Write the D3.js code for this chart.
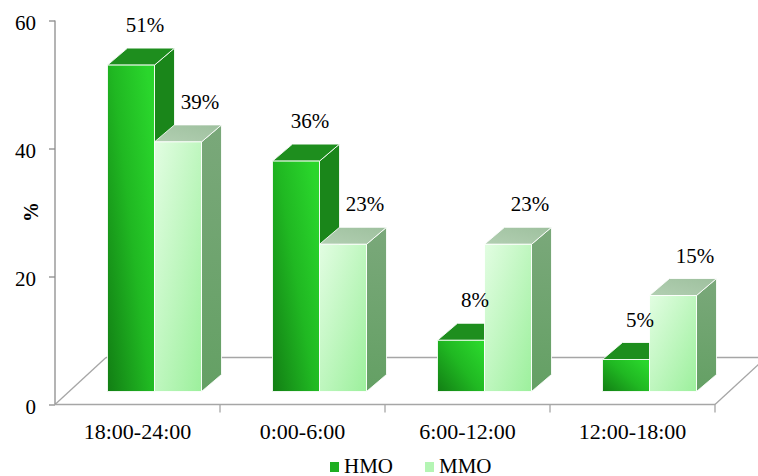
<!DOCTYPE html>
<html><head><meta charset="utf-8">
<script src="https://cdn.jsdelivr.net/npm/d3@7"></script>
<style>html,body{margin:0;padding:0;background:#fff;}svg{display:block;}
svg text{font-family:'Liberation Serif','Times New Roman','DejaVu Serif',serif !important;}</style>
</head><body>
<svg id="chart" width="758" height="476"></svg>
<script>
const categories = ["18:00-24:00", "0:00-6:00", "6:00-12:00", "12:00-18:00"];
const seriesNames = ["HMO", "MMO"];
const hmoValues = [51, 36, 8, 5];
const mmoValues = [39, 23, 23, 15];
const yTicks = [0, 20, 40, 60];

const W = 758, H = 476;
const FONT = "'Liberation Serif','Times New Roman',serif";
const svg = d3.select("#chart");
const defs = svg.append("defs");

// gradients
const gH = defs.append("linearGradient").attr("id","gHfront").attr("x1",0).attr("y1",1).attr("x2",1).attr("y2",0.2);
gH.append("stop").attr("offset",0).attr("stop-color","#127e14");
gH.append("stop").attr("offset",0.55).attr("stop-color","#20b822");
gH.append("stop").attr("offset",1).attr("stop-color","#2ad62c");
const gM = defs.append("linearGradient").attr("id","gMfront").attr("x1",0).attr("y1",0).attr("x2",1).attr("y2",1);
gM.append("stop").attr("offset",0).attr("stop-color","#e2fde2");
gM.append("stop").attr("offset",1).attr("stop-color","#9cf09c");
const gMs = defs.append("linearGradient").attr("id","gMside").attr("x1",0).attr("y1",0).attr("x2",0).attr("y2",1);
gMs.append("stop").attr("offset",0).attr("stop-color","#7aa87a");
gMs.append("stop").attr("offset",1).attr("stop-color","#64a064");
const gMt = defs.append("linearGradient").attr("id","gMtop").attr("x1",0).attr("y1",1).attr("x2",1).attr("y2",0);
gMt.append("stop").attr("offset",0).attr("stop-color","#b2cfb2");
gMt.append("stop").attr("offset",1).attr("stop-color","#9ec09e");

const styles = {
  HMO: {front:"url(#gHfront)", top:"#1e8e1e", side:"#1a861a", legend:"#1fae22"},
  MMO: {front:"url(#gMfront)", top:"url(#gMtop)", side:"url(#gMside)", legend:"#b4f5b4"}
};

// geometry
const plotLeft = 55, plotRight = 715;
const y = d3.scaleLinear().domain([0, 60]).range([404.5, 20.5]);
const x = d3.scaleBand().domain(categories).range([plotLeft, plotRight]);
const floorDx = 51, floorDy = -47;
const barShiftX = 17, barShiftY = -13;   // bar front face inside floor depth
const barDx = 20, barDy = -17;
const groupW = 94;
const xs = d3.scaleBand().domain(seriesNames).range([0, groupW]);

// floor
const floor = svg.append("g").attr("stroke","#a6a6a6").attr("stroke-width",1.3).attr("fill","none");
const y0 = y(0);
floor.append("line").attr("x1",plotLeft+floorDx).attr("y1",y0+floorDy).attr("x2",plotRight+floorDx).attr("y2",y0+floorDy);
floor.append("line").attr("x1",plotLeft).attr("y1",y0).attr("x2",plotLeft+floorDx).attr("y2",y0+floorDy);
floor.append("line").attr("x1",plotRight).attr("y1",y0).attr("x2",plotRight+floorDx).attr("y2",y0+floorDy);

// y axis
const yAxis = d3.axisLeft(y).tickValues(yTicks).tickSize(6).tickPadding(13);
const ya = svg.append("g").attr("transform",`translate(${plotLeft},0)`).call(yAxis).attr("font-family",FONT);
ya.selectAll(".tick line").attr("stroke","#8c8c8c").attr("stroke-width",1.3);
ya.selectAll(".tick text").attr("font-family",FONT).attr("font-size",21).attr("fill","#000").attr("dy","0.42em");
ya.select(".domain").attr("stroke","#8c8c8c").attr("stroke-width",1.3).attr("d",`M0,${y(60)}V${y(0)}`);

// x axis (front floor line)
const xAxis = d3.axisBottom(x).tickSize(0).tickPadding(19);
const xa = svg.append("g").attr("transform",`translate(0,${y0})`).call(xAxis).attr("font-family",FONT);
xa.select(".domain").attr("stroke","#a6a6a6").attr("stroke-width",1.3).attr("d",`M${plotLeft},0H${plotRight}V8`);
xa.selectAll(".tick text").attr("font-family",FONT).attr("font-size",22).attr("fill","#000");
xa.selectAll(".bnd").data(categories.slice(1)).enter().append("line").attr("class","bnd")
  .attr("x1",d=>x(d)).attr("x2",d=>x(d)).attr("y1",0).attr("y2",8)
  .attr("stroke","#a6a6a6").attr("stroke-width",1.3);

// y label
svg.append("text").attr("transform",`translate(31,212) rotate(-90)`).attr("text-anchor","middle")
  .attr("dy","0.35em").attr("font-family",FONT).attr("font-size",20).attr("font-weight","bold").text("%");

// bars
const rows = [];
categories.forEach((c,i)=>{
  rows.push({cat:c, s:"HMO", v:hmoValues[i]});
  rows.push({cat:c, s:"MMO", v:mmoValues[i]});
});
const bars = svg.append("g");
rows.forEach(d=>{
  const st = styles[d.s];
  const bx0 = x(d.cat) + x.bandwidth()/2 - groupW/2 + barShiftX + xs(d.s);
  const bx1 = bx0 + xs.bandwidth();
  const yb = y(0) + barShiftY;
  const yt = y(d.v) + barShiftY;
  const g = bars.append("g").attr("stroke","#ffffff").attr("stroke-width",1).attr("stroke-opacity",0.85).attr("stroke-linejoin","round");
  g.append("path").attr("fill",st.side)
    .attr("d",`M${bx1},${yt}L${bx1+barDx},${yt+barDy}L${bx1+barDx},${yb+barDy}L${bx1},${yb}Z`);
  g.append("path").attr("fill",st.top)
    .attr("d",`M${bx0},${yt}L${bx0+barDx},${yt+barDy}L${bx1+barDx},${yt+barDy}L${bx1},${yt}Z`);
  g.append("rect").attr("x",bx0).attr("y",yt).attr("width",bx1-bx0).attr("height",yb-yt).attr("fill",st.front);
  d.lx = (bx0+bx1)/2 + (d.s==="HMO"?14:22);
  d.ly = yt + barDy - 16;
});

// value labels
svg.append("g").selectAll("text").data(rows).enter().append("text")
  .attr("x",d=>d.lx).attr("y",d=>d.ly).attr("text-anchor","middle")
  .attr("font-family",FONT).attr("font-size",21).attr("fill","#000")
  .text(d=>d.v+"%");

// legend
const legX = [330, 425];
const leg = svg.append("g");
seriesNames.forEach((s,i)=>{
  leg.append("rect").attr("x",legX[i]).attr("y",462).attr("width",9).attr("height",10).attr("fill",styles[s].legend);
  leg.append("text").attr("x",legX[i]+14).attr("y",473).attr("font-family",FONT).attr("font-size",21).attr("fill","#000").text(s);
});
</script>
</body></html>
